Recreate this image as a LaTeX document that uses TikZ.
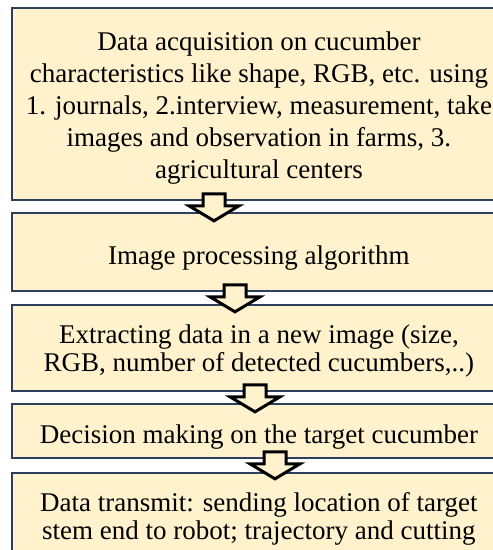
\documentclass[tikz,border=0pt]{standalone}
\usepackage{fontspec}
\setmainfont{Liberation Serif}
\usetikzlibrary{calc}
\definecolor{boxfill}{HTML}{FFF2CC}
\definecolor{boxline}{HTML}{2E3F5C}
\tikzset{
  stagebox/.style={draw=boxline, line width=1.8pt, fill=boxfill,
    anchor=north west, minimum width=494pt, inner sep=0pt},
  stagetext/.style={anchor=center, inner sep=0pt, align=center,
    font=\fontsize{27}{28}\selectfont},
  widetext/.style={stagetext, font=\fontsize{27}{32}\selectfont},
  arrowline/.style={draw=black, line width=3pt, fill=boxfill, miter limit=10},
  blockarrow/.pic={
    \path[arrowline] (-11,-7) -- (11,-7) -- (11,5) -- (25,5) -- (0,20)
      -- (-25,5) -- (-11,5) -- cycle;
  }
}
\begin{document}
\begin{tikzpicture}[x=1pt,y=-1pt]
  \useasboundingbox[fill=white] (0,0) rectangle (493,550);
  \begin{scope}
    \clip (0,0) rectangle (493,550);
    % stage boxes
    \node[stagebox, minimum height=192pt] (b1) at (11,7) {};
    \node[stagebox, minimum height=78pt] (b2) at (11,212) {};
    \node[stagebox, minimum height=86pt] (b3) at (11,304) {};
    \node[stagebox, minimum height=54pt] (b4) at (11,403) {};
    \node[stagebox, minimum height=90pt] (b5) at (11,472) {};
    % stage texts
    \node[widetext] (t1) at ($(b1.center)+(0,4)$)
      {Data acquisition on cucumber\\
       characteristics like shape, RGB, etc. using\\
       1. journals, 2.interview, measurement, take\\
       images and observation in farms, 3.\\
       agricultural centers};
    \node[stagetext] (t2) at ($(b2.center)+(0,6)$)
      {Image processing algorithm};
    \node[stagetext] (t3) at ($(b3.center)+(0,3)$)
      {Extracting data in a new image (size,\\
       RGB, number of detected cucumbers,..)};
    \node[stagetext] (t4) at ($(b4.center)+(0,6)$)
      {Decision making on the target cucumber};
    \node[stagetext] (t5) at ($(b5.center)+(0,1)$)
      {Data transmit: sending location of target\\
       stem end to robot; trajectory and cutting};
    % block arrows linking consecutive stages
    \coordinate (a1) at ($(b1.south west)+(203,0)$);
    \coordinate (a2) at ($(b2.south west)+(224,0)$);
    \coordinate (a3) at ($(b3.south west)+(244,0)$);
    \coordinate (a4) at ($(b4.south west)+(264,0)$);
    \pic at (a1) {blockarrow};
    \pic at (a2) {blockarrow};
    \pic at (a3) {blockarrow};
    \pic at (a4) {blockarrow};
  \end{scope}
\end{tikzpicture}
\end{document}
